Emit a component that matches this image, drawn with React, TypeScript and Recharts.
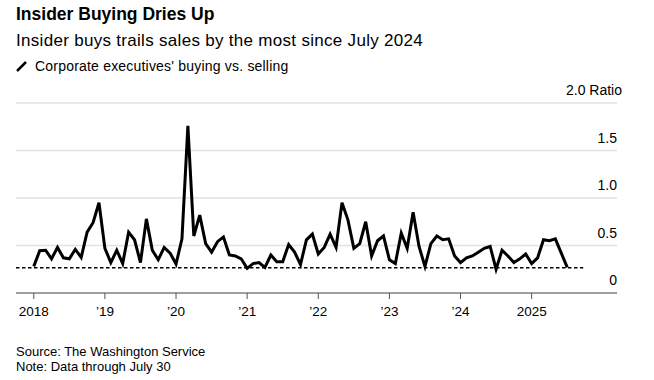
import { LineChart, Line, XAxis, YAxis, CartesianGrid, ReferenceLine } from "recharts";

const FONT = '"Liberation Sans", Arial, sans-serif';

// monthly ratio, Jan 2018 .. Jul 2025
const ratio2018 = [0.28, 0.445, 0.45, 0.36, 0.48, 0.37, 0.36, 0.46, 0.375, 0.64, 0.74, 0.95];
const ratio2019 = [0.47, 0.32, 0.45, 0.31, 0.64, 0.56, 0.32, 0.78, 0.45, 0.35, 0.48, 0.42];
const ratio2020 = [0.305, 0.57, 1.76, 0.6, 0.82, 0.52, 0.43, 0.54, 0.59, 0.4, 0.39, 0.36];
const ratio2021 = [0.26, 0.31, 0.32, 0.27, 0.4, 0.33, 0.33, 0.51, 0.43, 0.3, 0.56, 0.62];
const ratio2022 = [0.41, 0.48, 0.62, 0.48, 0.95, 0.77, 0.47, 0.52, 0.75, 0.39, 0.55, 0.6];
const ratio2023 = [0.35, 0.31, 0.63, 0.47, 0.85, 0.49, 0.28, 0.52, 0.6, 0.56, 0.57, 0.39];
const ratio2024 = [0.32, 0.37, 0.39, 0.43, 0.47, 0.49, 0.25, 0.45, 0.39, 0.32, 0.36, 0.41];
const ratio2025 = [0.31, 0.37, 0.56, 0.55, 0.57, 0.42, 0.27];

const julyLevel = 0.267; // dashed line: latest reading

const yearTicks = [0, 12, 24, 36, 48, 60, 72, 84];
const yearLabels = ["2018", "\u201919", "\u201920", "\u201921", "\u201922", "\u201923", "\u201924", "2025"];
const ratioTicks = [0, 0.5, 1, 1.5, 2];
const ratioLabels = ["0", "0.5", "1.0", "1.5", "2.0"];

const allRatios = [
  ...ratio2018,
  ...ratio2019,
  ...ratio2020,
  ...ratio2021,
  ...ratio2022,
  ...ratio2023,
  ...ratio2024,
  ...ratio2025,
];
const data = allRatios.map((v, i) => ({ t: i, ratio: v }));

function RatioTick(props: any) {
  const { x, y, payload } = props;
  const idx = ratioTicks.indexOf(payload.value);
  const label = ratioLabels[idx];
  const top = payload.value === 2;
  return (
    <text
      x={top ? x + 5 : x}
      y={y - 8}
      textAnchor="end"
      fontSize={14}
      fontFamily={FONT}
      fill="#000"
    >
      {top ? label + " Ratio" : label}
    </text>
  );
}

export default function App() {
  return (
    <div
      style={{
        position: "absolute",
        left: 0,
        top: 0,
        width: 654,
        height: 380,
        background: "#fff",
        fontFamily: FONT,
        color: "#000",
      }}
    >
      <LineChart
        width={654}
        height={330}
        data={data}
        margin={{ top: 103, right: 0, left: 16, bottom: 7 }}
      >
        <CartesianGrid vertical={false} stroke="#e2e2e2" strokeWidth={1.5} />
        <XAxis
          dataKey="t"
          type="number"
          domain={[-3, 98.4]}
          ticks={yearTicks}
          tickFormatter={(v: number) => yearLabels[yearTicks.indexOf(v)]}
          height={30}
          tickSize={6}
          tickMargin={7}
          stroke="#555"
          tick={{ fontSize: 13.5, fontFamily: FONT, fill: "#000" }}
          allowDataOverflow
        />
        <YAxis
          orientation="right"
          width={37}
          domain={[0, 2]}
          ticks={ratioTicks}
          axisLine={false}
          tickLine={false}
          tickSize={0}
          tickMargin={0}
          tick={<RatioTick />}
        />
        <ReferenceLine
          segment={[
            { x: -3, y: julyLevel },
            { x: 92.7, y: julyLevel },
          ]}
          stroke="#000"
          strokeWidth={1.5}
          strokeDasharray="3.5 2.5"
        />
        <Line
          dataKey="ratio"
          type="linear"
          stroke="#000"
          strokeWidth={3}
          dot={false}
          isAnimationActive={false}
        />
      </LineChart>

      <div style={{ position: "absolute", left: 16, top: 4, fontSize: 17.5, fontWeight: 700 }}>
        Insider Buying Dries Up
      </div>
      <div style={{ position: "absolute", left: 16, top: 31, fontSize: 17, letterSpacing: 0.3 }}>
        Insider buys trails sales by the most since July 2024
      </div>
      <div
        style={{
          position: "absolute",
          left: 16,
          top: 58,
          fontSize: 14,
          letterSpacing: 0.2,
          display: "flex",
          alignItems: "center",
        }}
      >
        <svg width={12} height={12} style={{ marginRight: 7 }}>
          <line x1={1} y1={11} x2={10} y2={2} stroke="#000" strokeWidth={2.5} />
        </svg>
        Corporate executives' buying vs. selling
      </div>
      <div style={{ position: "absolute", left: 16, top: 344, fontSize: 13, lineHeight: "15px" }}>
        Source: The Washington Service
        <br />
        Note: Data through July 30
      </div>
    </div>
  );
}
